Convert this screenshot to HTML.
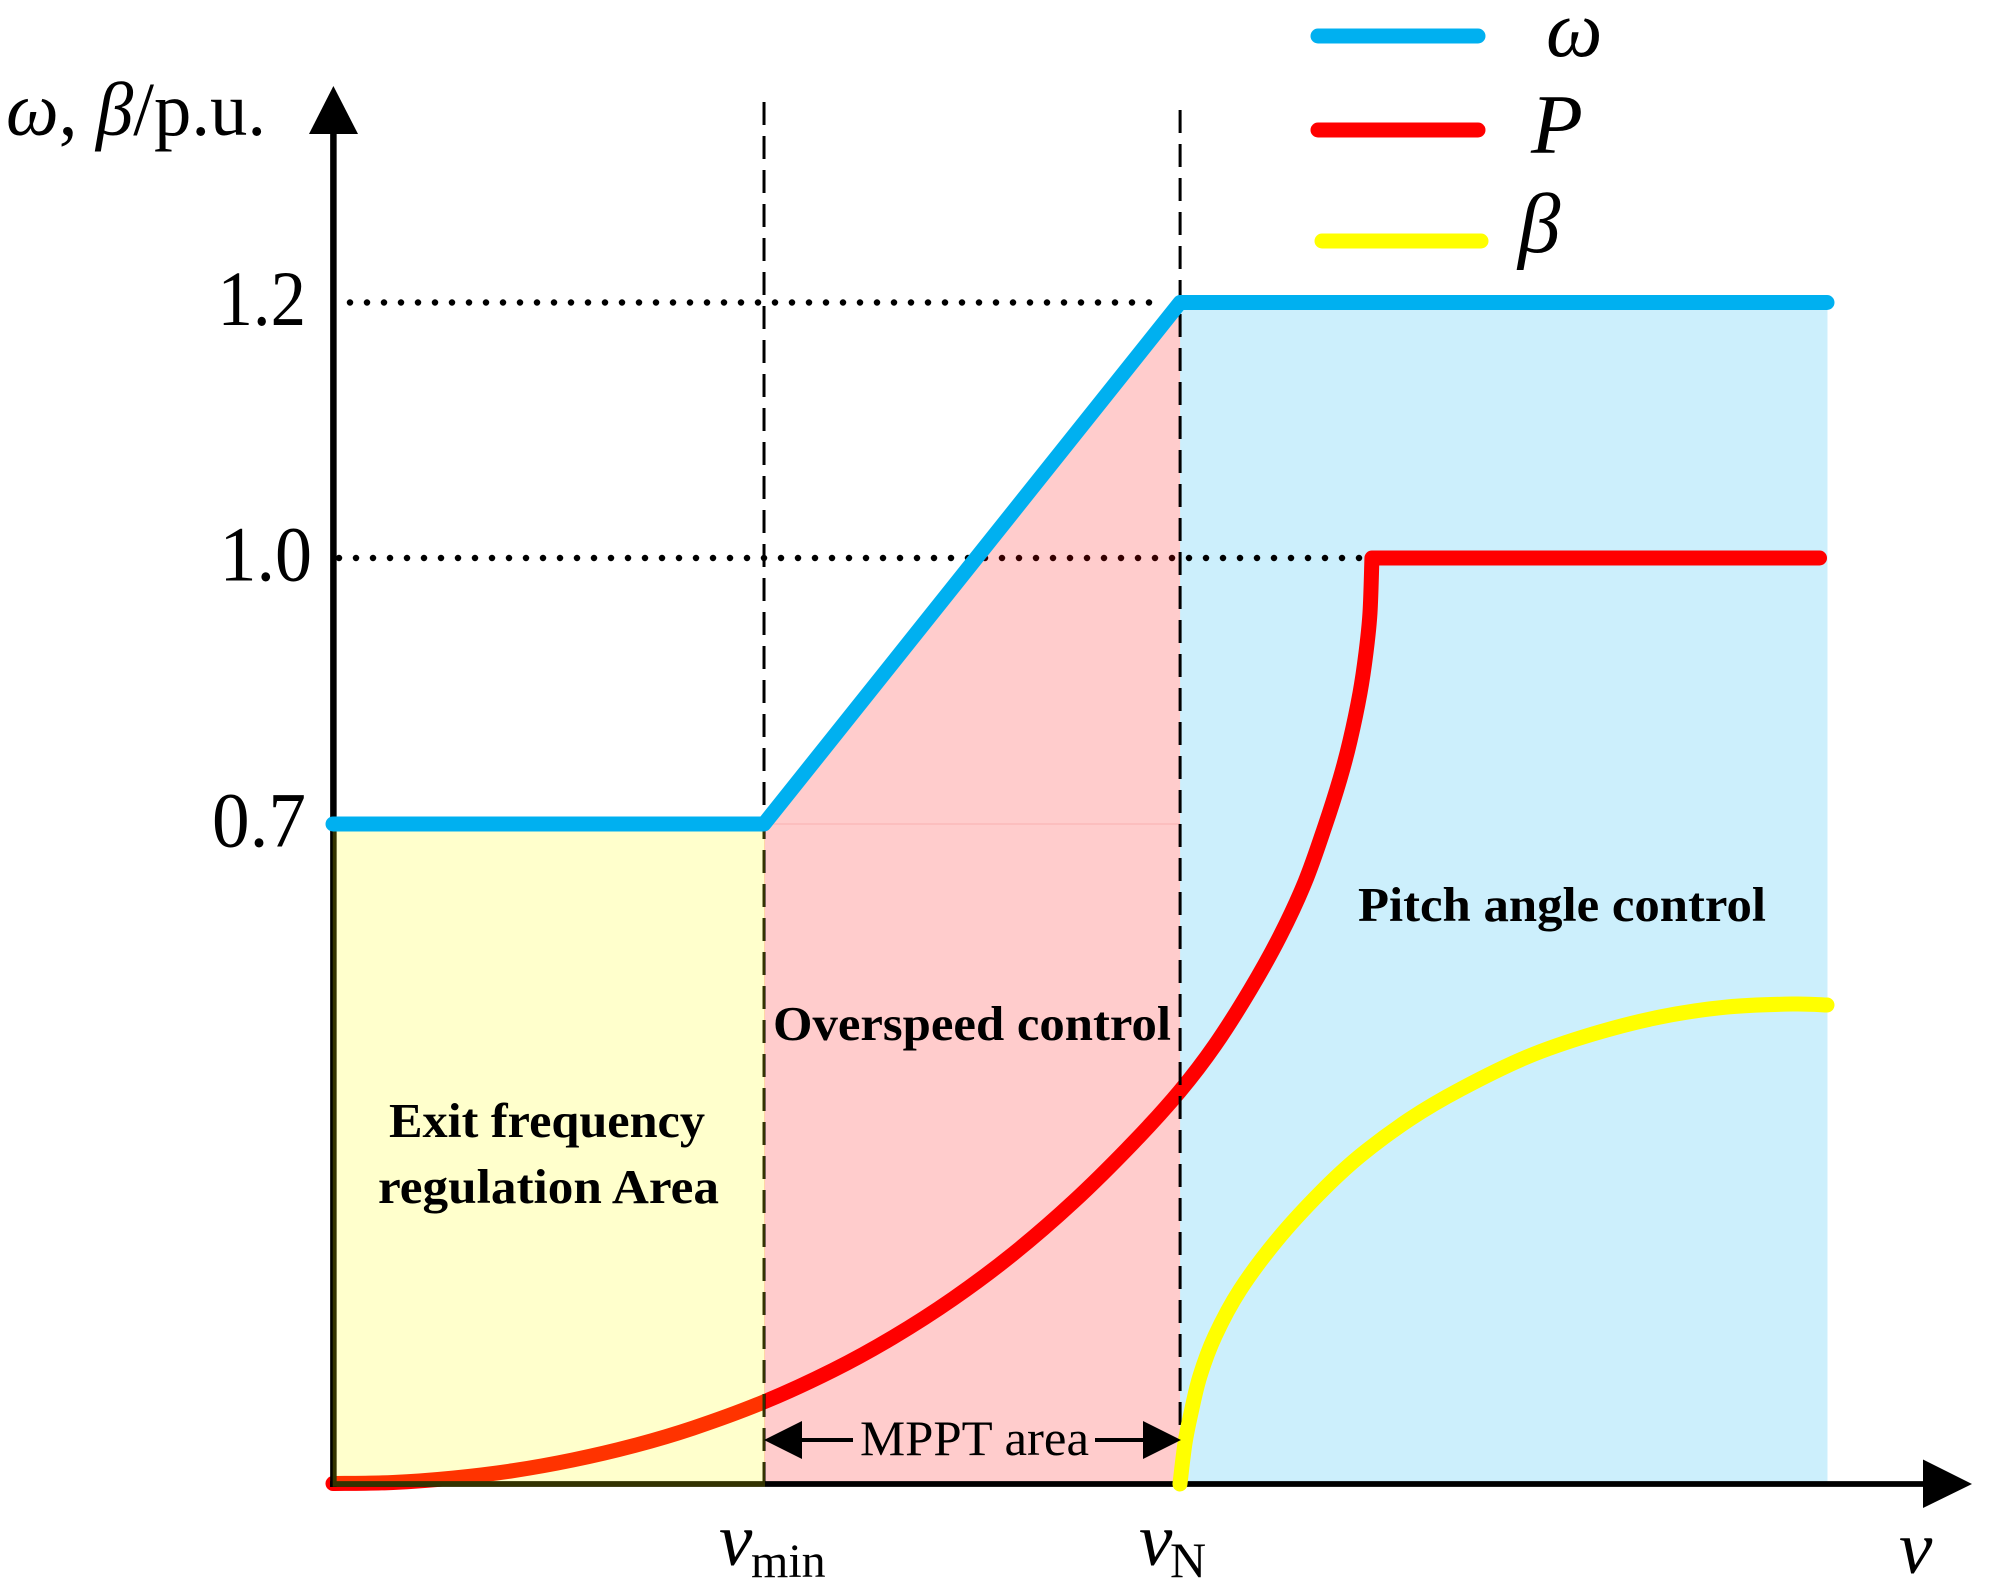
<!DOCTYPE html>
<html lang="en">
<head>
<meta charset="utf-8">
<title>Wind turbine control regions</title>
<style>
  html, body { margin: 0; padding: 0; background: #fff; }
  svg { display: block; }
  text { font-family: "Liberation Serif", serif; fill: #000; }
</style>
</head>
<body>
<svg id="chart" xmlns="http://www.w3.org/2000/svg" width="1994" height="1588" viewBox="0 0 1994 1588">
  <g id="layer-regions"></g>
  <g id="layer-power"></g>
  <g id="layer-guides"></g>
  <g id="layer-overspeed"></g>
  <g id="layer-axes">
    <line x1="333.4" y1="130" x2="333.4" y2="1487" stroke="#000" stroke-width="6.5"/>
    <polygon points="333.4,86 309,134 358,134" fill="#000"/>
    <line x1="330" y1="1484" x2="1930" y2="1484" stroke="#000" stroke-width="5.7"/>
    <polygon points="1972,1484 1923,1459.5 1923,1508" fill="#000"/>
  </g>
  <g id="layer-dashes"></g>
  <g id="layer-exit"></g>
  <g id="layer-series"></g>
  <g id="layer-ticks"></g>

  <text x="6" y="135" font-size="76" textLength="260" lengthAdjust="spacingAndGlyphs"><tspan font-style="italic">ω</tspan>, <tspan font-style="italic">β</tspan>/p.u.</text>

  <g>
    <line x1="1318" y1="36" x2="1478" y2="36" stroke="#00b0f0" stroke-width="15" stroke-linecap="round"/>
    <text x="1546" y="56" font-size="80" font-style="italic">ω</text>
    <line x1="1318" y1="130" x2="1478" y2="130" stroke="#ff0000" stroke-width="15" stroke-linecap="round"/>
    <text x="1531" y="153" font-size="85" font-style="italic">P</text>
    <line x1="1322" y1="241" x2="1481" y2="241" stroke="#ffff00" stroke-width="15" stroke-linecap="round"/>
    <text x="1518" y="252" font-size="85" font-style="italic">β</text>
  </g>

  <g font-weight="bold" font-size="49">
    <text x="389" y="1137" textLength="316" lengthAdjust="spacingAndGlyphs">Exit frequency</text>
    <text x="378" y="1203" textLength="341" lengthAdjust="spacingAndGlyphs">regulation Area</text>
    <text x="773" y="1040" textLength="398" lengthAdjust="spacingAndGlyphs">Overspeed control</text>
    <text x="1358" y="921" textLength="408" lengthAdjust="spacingAndGlyphs">Pitch angle control</text>
  </g>

  <g>
    <line x1="800" y1="1440" x2="853" y2="1440" stroke="#000" stroke-width="4"/>
    <polygon points="764,1440 802,1421 802,1459" fill="#000"/>
    <text x="860" y="1455" font-size="50" textLength="229" lengthAdjust="spacingAndGlyphs">MPPT area</text>
    <line x1="1095" y1="1440" x2="1145" y2="1440" stroke="#000" stroke-width="4"/>
    <polygon points="1181,1440 1143,1421 1143,1459" fill="#000"/>
  </g>

  <text x="719" y="1565" font-size="75" font-style="italic">v</text>
  <text x="751" y="1577" font-size="48">min</text>
  <text x="1139" y="1565" font-size="75" font-style="italic">v</text>
  <text x="1170" y="1577" font-size="50">N</text>
  <text x="1899" y="1573" font-size="75" font-style="italic">v</text>
</svg>

<script>
// Schematic data. Wind speed runs 0..100 along the axis.
const markerNames = ['v-min', 'v-n'];
const markerSpeeds = [28.85, 56.7];

const yTickValues = [0.7, 1.0, 1.2];
const yTickLabels = ['0.7', '1.0', '1.2'];

const omegaSpeeds = [0, 28.85, 56.7, 100];
const omegaValues = [0.7, 0.7, 1.2, 1.2];

const powerCurveSpeeds = [0, 4.016, 8.03, 12.05, 16.06, 20.08, 24.10, 28.85, 33.47, 37.48, 41.50, 45.52, 49.53, 53.55, 56.69, 59.04, 61.38, 63.39, 65.06, 66.40, 67.40, 68.07, 68.74, 69.14, 69.41, 69.54];
const powerCurveValues = [0.0005, 0.0016, 0.0063, 0.0141, 0.0255, 0.0404, 0.0593, 0.0871, 0.1207, 0.1556, 0.1965, 0.2440, 0.2989, 0.3618, 0.4168, 0.4656, 0.5239, 0.5812, 0.6384, 0.6979, 0.7508, 0.7936, 0.8477, 0.8929, 0.9380, 1.0];
const powerFlatSpeeds = [69.54, 99.5];
const powerFlatValues = [1.0, 1.0];

const betaSpeeds = [56.69, 57.03, 57.43, 58.03, 59.04, 60.71, 63.19, 66.06, 68.74, 72.09, 75.44, 79.92, 84.34, 88.82, 93.31, 97.72, 100];
const betaValues = [0, 0.0435, 0.0753, 0.1145, 0.157, 0.2058, 0.2588, 0.3086, 0.3479, 0.3871, 0.4184, 0.4529, 0.4773, 0.4953, 0.5059, 0.5091, 0.508];

// The printed axis is schematic: each span between ticks has its own scale.
function xScale(u) {
  return 333 + u * 14.94;
}
function yScale(v) {
  if (v <= 0.7) return 1484 - (v / 0.7) * 660;
  if (v <= 1.0) return 824 - ((v - 0.7) / 0.3) * 266;
  return 558 - ((v - 1.0) / 0.2) * 255.5;
}

const NS = 'http://www.w3.org/2000/svg';
function make(tag, parentId, attrs) {
  const el = document.createElementNS(NS, tag);
  for (const key in attrs) el.setAttribute(key, attrs[key]);
  document.getElementById(parentId).appendChild(el);
  return el;
}
function smoothPath(xs, ys) {
  const pts = xs.map((x, i) => [xScale(x), yScale(ys[i])]);
  let d = 'M' + pts[0][0] + ' ' + pts[0][1];
  for (let i = 0; i < pts.length - 1; i++) {
    const p0 = pts[Math.max(i - 1, 0)];
    const p1 = pts[i];
    const p2 = pts[i + 1];
    const p3 = pts[Math.min(i + 2, pts.length - 1)];
    const c1x = p1[0] + (p2[0] - p0[0]) / 6;
    const c1y = p1[1] + (p2[1] - p0[1]) / 6;
    const c2x = p2[0] - (p3[0] - p1[0]) / 6;
    const c2y = p2[1] - (p3[1] - p1[1]) / 6;
    d += ' C' + c1x + ' ' + c1y + ' ' + c2x + ' ' + c2y + ' ' + p2[0] + ' ' + p2[1];
  }
  return d;
}
function polyPoints(xs, ys) {
  return xs.map((x, i) => xScale(x) + ',' + yScale(ys[i])).join(' ');
}

const xMin = xScale(markerSpeeds[0]);
const xN = xScale(markerSpeeds[1]);
const xEnd = xScale(omegaSpeeds[omegaSpeeds.length - 1]);
const yBase = yScale(0);
const yLow = yScale(omegaValues[0]);
const yHigh = yScale(omegaValues[omegaValues.length - 1]);

// Pitch angle region
const pitchRegion = make('rect', 'layer-regions', { x: xN, y: yHigh, width: xEnd - xN + 0.5, height: yBase - yHigh, fill: '#00b0f0', 'fill-opacity': 0.2 });



// Power curve
const powerCurve = make('path', 'layer-power', {
  d: smoothPath(powerCurveSpeeds, powerCurveValues) + ' L' + xScale(powerFlatSpeeds[1]) + ' ' + yScale(powerFlatValues[1]),
  fill: 'none', stroke: '#ff0000', 'stroke-width': 15, 'stroke-linecap': 'round', 'stroke-linejoin': 'round'
});



// Dotted guides at the two upper ticks
const dottedHigh = make('line', 'layer-guides', { x1: 350, y1: yScale(yTickValues[2]), x2: 1166, y2: yScale(yTickValues[2]), stroke: '#000', 'stroke-width': 6.5, 'stroke-linecap': 'round', 'stroke-dasharray': '0 17' });


const dottedMid = make('line', 'layer-guides', { x1: 339, y1: yScale(yTickValues[1]), x2: 1373, y2: yScale(yTickValues[1]), stroke: '#000', 'stroke-width': 6.5, 'stroke-linecap': 'round', 'stroke-dasharray': '0 17' });



// Overspeed region under the rising part of omega
const overspeedRegion = make('polygon', 'layer-overspeed', {
  points: xMin + ',' + yLow + ' ' + xN + ',' + yHigh + ' ' + xN + ',' + yBase + ' ' + xMin + ',' + yBase,
  fill: '#ff0000', 'fill-opacity': 0.2
});


const overspeedSeam = make('line', 'layer-overspeed', { x1: xMin, y1: yLow, x2: xN, y2: yLow, stroke: '#f9b0b0', 'stroke-width': 1 });



// Dashed speed markers
markerSpeeds.forEach(function (speed, i) {
  const marker = make('line', 'layer-dashes', {
    x1: xScale(speed), y1: i === 0 ? 102 : 110, x2: xScale(speed), y2: yBase,
    stroke: '#000', 'stroke-width': 3, 'stroke-dasharray': '23 11'
  });
  
  
});

// Exit frequency regulation region, translucent over the axes and the curve
const exitRegion = make('rect', 'layer-exit', { x: 332.7, y: yLow, width: xMin + 1 - 332.7, height: yBase + 2.8 - yLow, fill: '#ffff00', 'fill-opacity': 0.2 });



// Omega and beta series
const betaCurve = make('path', 'layer-series', { d: smoothPath(betaSpeeds, betaValues), fill: 'none', stroke: '#ffff00', 'stroke-width': 15, 'stroke-linecap': 'round', 'stroke-linejoin': 'round' });


const omegaLine = make('polyline', 'layer-series', { points: polyPoints(omegaSpeeds, omegaValues), fill: 'none', stroke: '#00b0f0', 'stroke-width': 15, 'stroke-linecap': 'round', 'stroke-linejoin': 'round' });



// Y tick labels (the printed digits are slightly condensed)
function tickLabelWidth(label) {
  if (label === '1.2') return 88.5;
  if (label === '1.0') return 92.5;
  return 94;
}
yTickValues.forEach(function (value, i) {
  const tick = make('text', 'layer-ticks', {
    x: yTickLabels[i] === '1.0' ? 312 : 306,
    y: yScale(value) + 22.5,
    'font-size': 78,
    'text-anchor': 'end',
    textLength: tickLabelWidth(yTickLabels[i]),
    lengthAdjust: 'spacingAndGlyphs'
  });
  tick.textContent = yTickLabels[i];
  
  
});
</script>
</body>
</html>
